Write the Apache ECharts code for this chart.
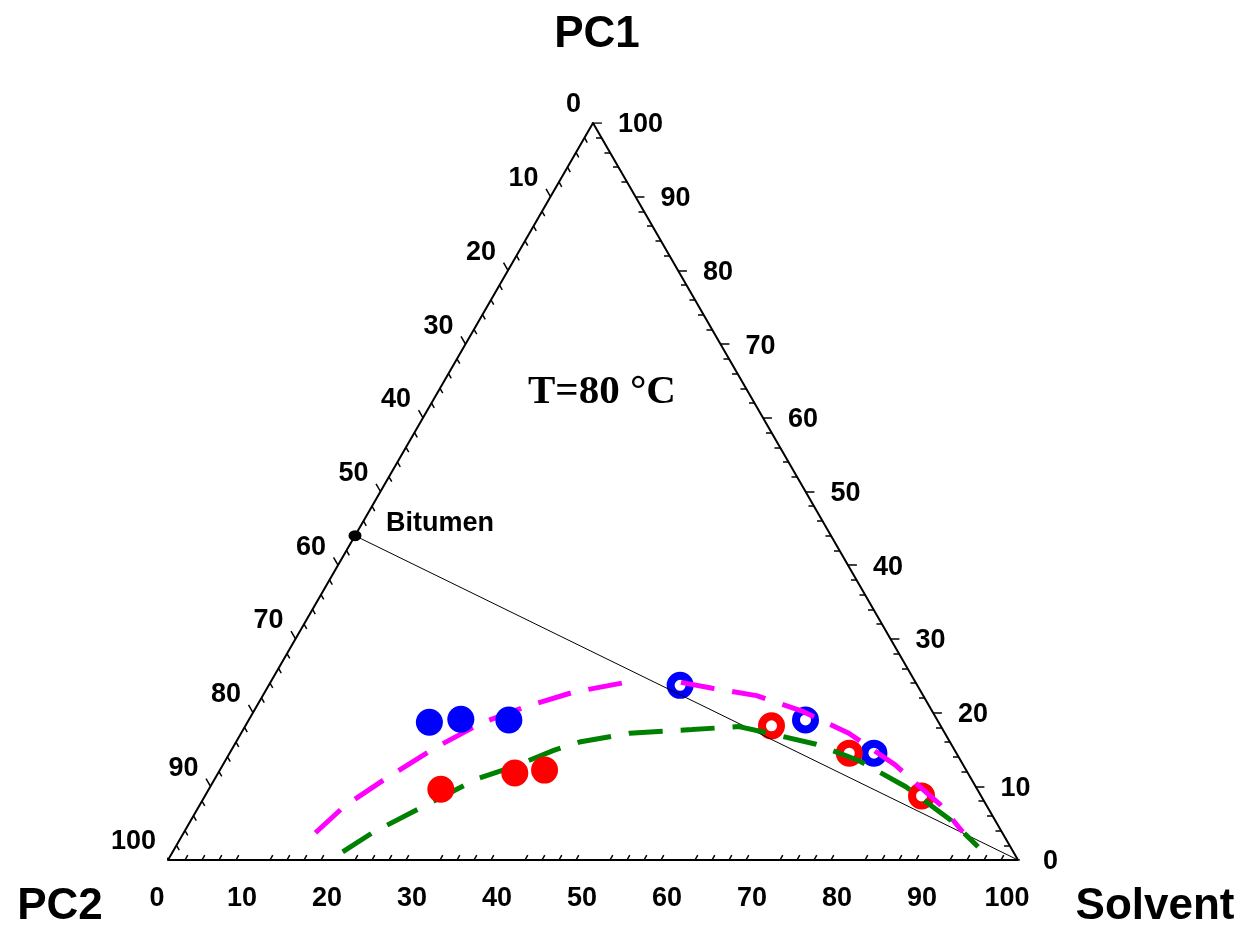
<!DOCTYPE html>
<html>
<head>
<meta charset="utf-8">
<script src="https://cdn.jsdelivr.net/npm/echarts@6/dist/echarts.min.js"></script>
<style>html,body{margin:0;padding:0;background:#fff;}#c{width:1247px;height:925px;}</style>
</head>
<body>
<div id="c"></div>
<script>
// Ternary compositions in %, each entry [PC1, PC2, Solvent]
const blueFilled = [[18.7, 59.9, 21.4], [19.1, 56.0, 24.9], [19.0, 50.4, 30.6]];
const redFilled  = [[9.6, 63.1, 27.3], [11.8, 53.3, 34.9], [12.2, 49.6, 38.2]];
const blueOpen   = [[23.7, 27.9, 48.4], [19.0, 15.5, 65.5], [14.5, 9.7, 75.8]];
const redOpen    = [[18.2, 19.9, 61.9], [14.5, 12.6, 72.9], [8.7, 7.0, 84.3]];
const bitumen    = [44.0, 56.0, 0.0];
const solventCorner = [0, 0, 100];
const magentaLeft = [[3.7, 80.8, 15.5], [7.3, 75.6, 17.1], [10.8, 69.3, 19.9], [15.3, 60.8, 23.9],
  [18.6, 53.8, 27.6], [20.9, 47.2, 31.9], [22.8, 40.8, 36.4], [24.1, 34.1, 41.8]];
const magentaRight = [[24.1, 27.6, 48.3], [23.3, 24.3, 52.4], [22.3, 19.6, 58.1], [20.2, 15.3, 64.5],
  [17.2, 11.3, 71.5], [12.9, 8.0, 79.1], [7.5, 5.4, 87.1], [3.8, 4.6, 91.6]];
const greenCurve = [[1.1, 78.9, 20.0], [3.7, 74.1, 22.2], [8.1, 64.5, 27.4], [11.1, 57.9, 31.0],
  [12.7, 52.9, 34.4], [14.9, 47.1, 38.0], [16.0, 43.6, 40.4], [17.2, 37.1, 45.7], [17.7, 29.5, 52.8],
  [18.1, 23.8, 58.1], [17.2, 20.7, 62.1], [15.7, 15.9, 68.4], [13.5, 12.0, 74.5], [9.9, 8.2, 81.9],
  [5.4, 5.2, 89.4], [1.8, 3.8, 94.4]];
const majorTicks = [0, 10, 20, 30, 40, 50, 60, 70, 80, 90, 100];
const minorTicks = [2, 4, 6, 8, 12, 14, 16, 18, 22, 24, 26, 28, 32, 34, 36, 38, 42, 44, 46, 48,
  52, 54, 56, 58, 62, 64, 66, 68, 72, 74, 76, 78, 82, 84, 86, 88, 92, 94, 96, 98];
const vertexNames = ['PC1', 'PC2', 'Solvent'];
const temperatureText = 'T=80 °C';
const bitumenName = 'Bitumen';

const S3 = Math.sqrt(3) / 2;
function xy(t) { return [t[2] + t[0] / 2, t[0] * S3]; }
const FONT = '"Liberation Sans", Arial, sans-serif';
const MAJ = 1.05, MIN = 0.65;

// tick segments
const tickSegs = [];
majorTicks.forEach(v => {
  let p = xy([0, 100 - v, v]);
  tickSegs.push({coords: [p, [p[0] - 0.5 * MAJ, p[1] - S3 * MAJ]]});
  p = xy([v, 0, 100 - v]);
  tickSegs.push({coords: [p, [p[0] + MAJ, p[1]]]});
  p = xy([100 - v, v, 0]);
  tickSegs.push({coords: [p, [p[0] - 0.5 * MAJ, p[1] + S3 * MAJ]]});
});
minorTicks.forEach(v => {
  let p = xy([0, 100 - v, v]);
  tickSegs.push({coords: [p, [p[0] + 0.5 * MIN, p[1] + S3 * MIN]]});
  p = xy([v, 0, 100 - v]);
  tickSegs.push({coords: [p, [p[0] - MIN, p[1]]]});
  p = xy([100 - v, v, 0]);
  tickSegs.push({coords: [p, [p[0] + 0.5 * MIN, p[1] - S3 * MIN]]});
});

function labelSeries(points, offset, align) {
  return {
    type: 'scatter', symbolSize: 1, silent: true, z: 5,
    itemStyle: {color: 'rgba(0,0,0,0)', opacity: 1},
    data: points,
    label: {show: true, position: 'inside', offset: offset, align: align,
      verticalAlign: 'middle', formatter: p => String(p.value[2]),
      color: '#000', opacity: 1, fontFamily: FONT, fontWeight: 'bold', fontSize: 27}
  };
}

const dash = [34, 18];
const chart = echarts.init(document.getElementById('c'), null, {renderer: 'canvas'});
chart.setOption({
  animation: false,
  backgroundColor: '#fff',
  grid: {left: 168, right: 229, top: 123, bottom: 65, containLabel: false},
  xAxis: {type: 'value', min: 0, max: 100, show: false},
  yAxis: {type: 'value', min: 0, max: 100 * S3, show: false},
  graphic: [
    {type: 'text', style: {text: vertexNames[0], x: 597, y: 35, align: 'center', verticalAlign: 'middle', font: 'bold 44px ' + FONT, fill: '#000'}},
    {type: 'text', style: {text: vertexNames[1], x: 60, y: 907, align: 'center', verticalAlign: 'middle', font: 'bold 44px ' + FONT, fill: '#000'}},
    {type: 'text', style: {text: vertexNames[2], x: 1155, y: 907, align: 'center', verticalAlign: 'middle', font: 'bold 44px ' + FONT, fill: '#000'}},
    {type: 'text', style: {text: temperatureText, x: 602, y: 392, align: 'center', verticalAlign: 'middle', font: 'bold 41px "Liberation Serif", "Times New Roman", serif', fill: '#000'}}
  ],
  series: [
    {type: 'line', symbol: 'none', silent: true, z: 2,
     lineStyle: {color: '#000', width: 2},
     data: [xy([0, 100, 0]), xy([0, 0, 100]), xy([100, 0, 0]), xy([0, 100, 0])]},
    {type: 'lines', coordinateSystem: 'cartesian2d', silent: true, z: 2,
     lineStyle: {color: '#000', width: 1.5, opacity: 1}, data: tickSegs},
    {type: 'scatter', z: 1, silent: true, symbolSize: 19,
     itemStyle: {color: '#fff', borderColor: '#0000ff', borderWidth: 8, opacity: 1}, data: blueOpen.map(xy)},
    {type: 'scatter', z: 1, silent: true, symbolSize: 19,
     itemStyle: {color: '#fff', borderColor: '#ff0000', borderWidth: 8, opacity: 1}, data: redOpen.map(xy)},
    {type: 'line', symbol: 'none', silent: true, z: 3,
     lineStyle: {color: '#000', width: 1}, data: [xy(bitumen), xy(solventCorner)]},
    {type: 'line', symbol: 'none', silent: true, z: 3,
     lineStyle: {color: '#ff00ff', width: 5, type: dash}, data: magentaLeft.map(xy)},
    {type: 'line', symbol: 'none', silent: true, z: 3,
     lineStyle: {color: '#ff00ff', width: 5, type: dash}, data: magentaRight.map(xy)},
    {type: 'line', symbol: 'none', silent: true, z: 3,
     lineStyle: {color: '#008000', width: 5, type: dash}, data: greenCurve.map(xy)},
    {type: 'scatter', z: 4, silent: true, symbolSize: 27,
     itemStyle: {color: '#0000ff', opacity: 1}, data: blueFilled.map(xy)},
    {type: 'scatter', z: 4, silent: true, symbolSize: 27,
     itemStyle: {color: '#ff0000', opacity: 1}, data: redFilled.map(xy)},
    {type: 'scatter', z: 4, silent: true, symbolSize: [13, 11],
     itemStyle: {color: '#000', opacity: 1}, data: [xy(bitumen)],
     label: {show: true, position: 'inside', align: 'left', verticalAlign: 'middle', offset: [31, -12],
       formatter: bitumenName, color: '#000', opacity: 1, fontFamily: FONT, fontWeight: 'bold', fontSize: 27}},
    labelSeries(majorTicks.map(v => { const p = xy([0, 100 - v, v]); return [p[0], p[1], v]; }), [-11, 39], 'center'),
    labelSeries(majorTicks.map(v => { const p = xy([v, 0, 100 - v]); return [p[0], p[1], v]; }), [25, 2], 'left'),
    labelSeries(majorTicks.map(v => { const p = xy([100 - v, v, 0]); return [p[0], p[1], v]; }), [-12, -18], 'right')
  ]
});
</script>
</body>
</html>
